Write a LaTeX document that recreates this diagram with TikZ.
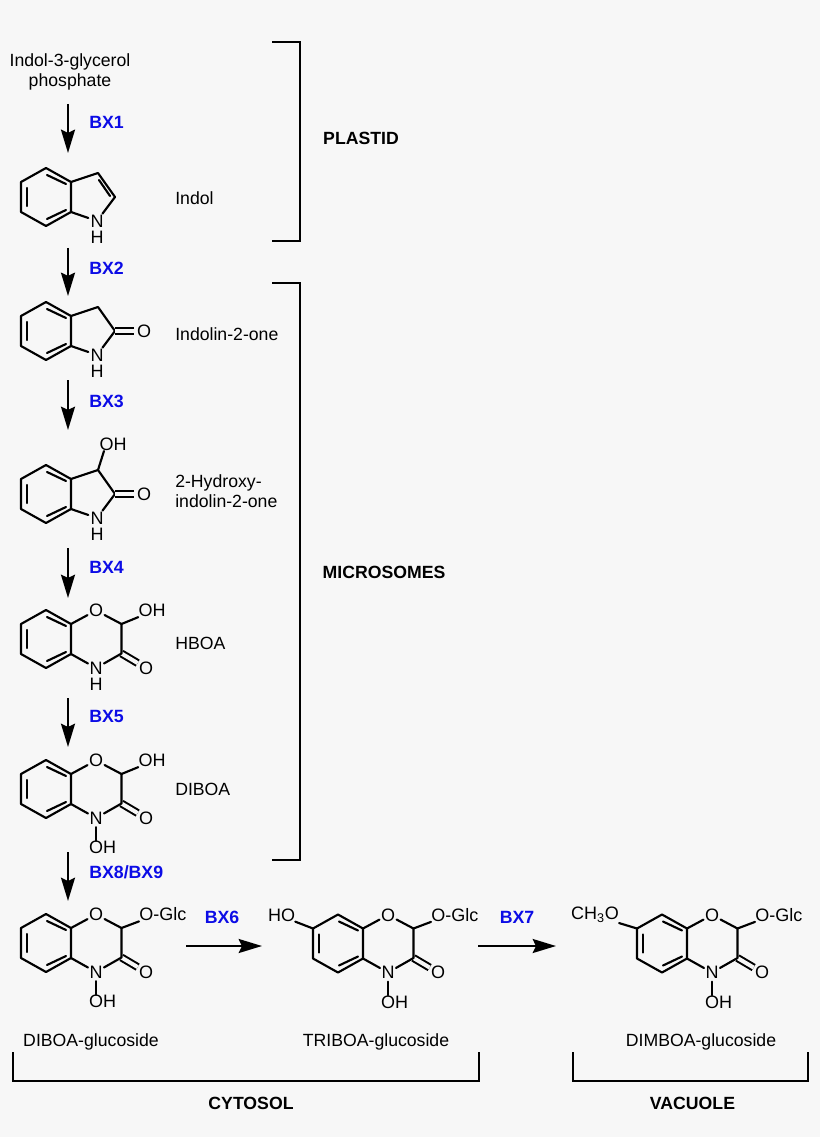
\documentclass[tikz,border=0pt]{standalone}
\usepackage{fontspec}
\setmainfont{Liberation Sans}
\usetikzlibrary{arrows.meta,calc}
\definecolor{bgc}{HTML}{F7F7F7}
\definecolor{bxblue}{HTML}{0C0CE6}
\newcommand{\ringbody}{%
  \draw[bond] (0,-29) -- (25,-15) -- (25,15) -- (0,29) -- (-25,15) -- (-25,-15) -- cycle;
  \draw[bond] (-19,-9) -- (-19,9);
  \draw[bond] (1,-22) -- (20,-13);
  \draw[bond] (1,22) -- (20,13);
  \coordinate (-ra) at (25,-15);
  \coordinate (-rb) at (25,15);
  \coordinate (-c7) at (-25,-15);
}
\newcommand{\fivering}{%
  \node[atom] (-n) at (51,24) {N};
  \node[lbl] (-h) at (51,40) {H};
  \coordinate (-c3) at (52,-24);
  \coordinate (-c2) at (69,0);
  \draw[bond] (-ra) -- (-c3) -- (-c2) -- (-n) -- (-rb);
}
\newcommand{\lactam}{%
  \node[atom] (-o) at (98,0) {O};
  \draw[dbond] (69,0) -- (-o);
}
\newcommand{\sixring}{%
  \node[atom] (-o1) at (50,-28.5) {O};
  \node[atom] (-n) at (50,29) {N};
  \node[atom] (-o2) at (100,29) {O};
  \coordinate (-c2) at (75.5,-15);
  \coordinate (-c3) at (75.5,14.5);
  \draw[dbond] (-c3) -- (-o2);
  \draw[bond] (-ra) -- (-o1) -- (-c2) -- (-c3) -- (-n) -- (-rb);
}
\newcommand{\nhydroxy}{%
  \node[lbl] (-noh) at (56.5,58.5) {OH};
  \draw[bond] (-n) -- (-n |- -noh.north);
}
\tikzset{
  bond/.style={line width=1.6pt,line join=round,line cap=round},
  dbond/.style={line width=1.5pt,double=bgc,double distance=3pt},
  atom/.style={circle,inner sep=0pt,font=\fontsize{13.5}{16}\selectfont},
  lbl/.style={inner sep=0pt,font=\fontsize{13.5}{16}\selectfont},
  txt/.style={inner sep=0pt,align=center,font=\fontsize{13.25}{15}\selectfont},
  cname/.style={inner sep=0pt,anchor=west,align=left,font=\fontsize{13.25}{15}\selectfont},
  enz/.style={inner sep=0pt,text=bxblue,font=\fontsize{13.3}{15.8}\selectfont\bfseries},
  comp/.style={inner sep=0pt,font=\fontsize{13.25}{15.8}\selectfont\bfseries},
  rxn/.style={line width=1.8pt,-{Stealth[length=17.5pt,width=10.5pt,inset=2.5pt]}},
  brk/.style={line width=1.7pt,line join=miter},
  pics/indole/.style={code={\ringbody\fivering
    \draw[bond] (53,-17) -- (64,-1);}},
  pics/oxindole/.style={code={\ringbody\fivering\lactam}},
  pics/hydroxyoxindole/.style={code={\ringbody\fivering\lactam
    \node[lbl] (-oh) at (67,-50) {OH};
    \draw[bond] (-c3) -- (58,-43);}},
  pics/hboa/.style={code={\ringbody\sixring
    \node[lbl] (-h) at (50,45.5) {H};
    \node[lbl] (-oh) at (106,-28.5) {OH};
    \draw[bond] (-c2) -- (-oh.south west);}},
  pics/diboa/.style={code={\ringbody\sixring\nhydroxy
    \node[lbl] (-oh) at (106,-28.5) {OH};
    \draw[bond] (-c2) -- (-oh.south west);}},
  pics/glucoside/.style={code={\ringbody\sixring\nhydroxy
    \node[lbl,anchor=west] (-glc) at (93,-28.5) {O-Glc};
    \draw[bond] (-c2) -- (-glc.south west);}},
}
\begin{document}
\begin{tikzpicture}[x=0.75pt,y=-0.75pt]
\fill[bgc] (0,0) rectangle (820,1137);
\useasboundingbox (0,0) rectangle (820,1137);

% precursor and names
\node[txt] (igp) at (70,72) {Indol-3-glycerol\\phosphate};
\node[cname] (nindol) at (175,198) {Indol};
\node[cname] (noxi) at (175,334) {Indolin-2-one};
\node[cname] (nhox) at (175,491.5) {2-Hydroxy-\\indolin-2-one};
\node[cname] (nhboa) at (175,643) {HBOA};
\node[cname] (ndiboa) at (175,789) {DIBOA};
\node[txt] (ng1) at (91,1042) {DIBOA-glucoside};
\node[txt] (ng2) at (376,1042) {TRIBOA-glucoside};
\node[txt] (ng3) at (701,1042) {DIMBOA-glucoside};

% molecules
\pic (m1) at (46,197) {indole};
\pic (m2) at (46,331) {oxindole};
\pic (m3) at (46,494) {hydroxyoxindole};
\pic (m4) at (46,639) {hboa};
\pic (m5) at (46,789) {diboa};
\pic (m6) at (46,943) {glucoside};
\pic (m7) at (338,943.5) {glucoside};
\pic (m8) at (662,943.5) {glucoside};
\node[lbl] (m7ho) at (281.5,915) {HO};
\draw[bond] (m7-c7) -- (m7ho.south east);
\node[lbl] (m8me) at (595,915) {CH\textsubscript{3}O};
\draw[bond] (m8-c7) -- (m8me.south east);

% reaction arrows
\foreach \n/\s/\e in {1/104/153,2/248/296,3/380/430,4/548/598,5/698/747,6/852/901}{
  \coordinate (vs\n) at (68,\s);
  \coordinate (ve\n) at (68,\e);
  \draw[rxn] (vs\n) -- (ve\n);
}
\coordinate (hs1) at (186,946); \coordinate (he1) at (262,946);
\coordinate (hs2) at (478,946); \coordinate (he2) at (556,946);
\draw[rxn] (hs1) -- (he1);
\draw[rxn] (hs2) -- (he2);

% enzymes
\node[enz,anchor=west] (bx1) at (89,122) {BX1};
\node[enz,anchor=west] (bx2) at (89,268) {BX2};
\node[enz,anchor=west] (bx3) at (89,401) {BX3};
\node[enz,anchor=west] (bx4) at (89,567) {BX4};
\node[enz,anchor=west] (bx5) at (89,716.5) {BX5};
\node[enz,anchor=west] (bx89) at (89,872) {BX8/BX9};
\node[enz] (bx6) at (222,917) {BX6};
\node[enz] (bx7) at (517,917) {BX7};

% compartments
\draw[brk] (272,42) -- (300,42) -- (300,241) -- (272,241);
\draw[brk] (272,283) -- (300,283) -- (300,860) -- (272,860);
\draw[brk] (13,1052) -- (13,1081) -- (479,1081) -- (479,1052);
\draw[brk] (573,1052) -- (573,1081) -- (808,1081) -- (808,1052);
\node[comp] (plastid) at (361,138) {PLASTID};
\node[comp] (micro) at (384,572) {MICROSOMES};
\node[comp] (cyto) at (251,1103) {CYTOSOL};
\node[comp] (vac) at (692.5,1103) {VACUOLE};
\end{tikzpicture}
\end{document}
